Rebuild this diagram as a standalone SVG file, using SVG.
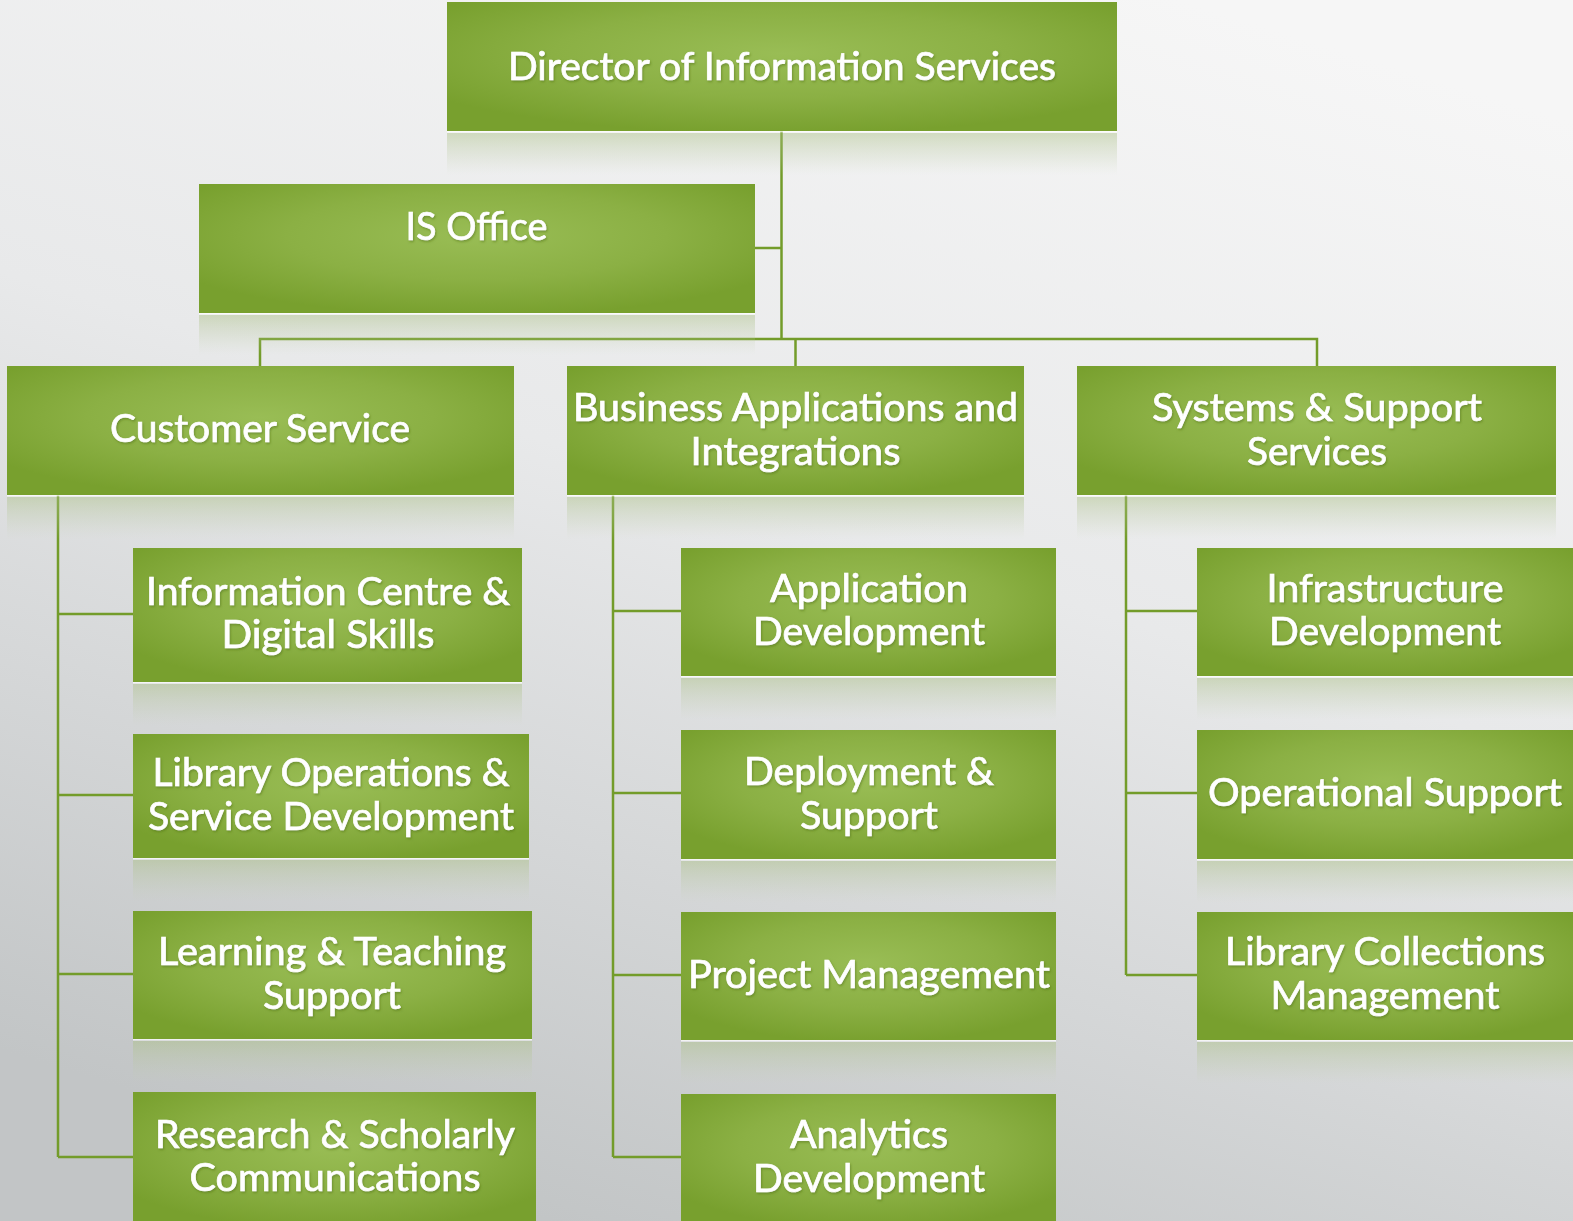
<svg xmlns="http://www.w3.org/2000/svg" width="1573" height="1221" viewBox="0 0 1573 1221">
<defs>
<linearGradient id="bg" x1="0.75" y1="0" x2="0.35" y2="1">
<stop offset="0" stop-color="#f6f6f6"/>
<stop offset="0.45" stop-color="#e8e9ea"/>
<stop offset="1" stop-color="#c2c5c6"/>
</linearGradient>
<radialGradient id="box" cx="0.5" cy="0.4" r="0.62">
<stop offset="0" stop-color="#99bd55"/>
<stop offset="0.55" stop-color="#8bb044"/>
<stop offset="1" stop-color="#78a02e"/>
</radialGradient>
<linearGradient id="refl" x1="0" y1="0" x2="0" y2="1">
<stop offset="0" stop-color="#a9bf82" stop-opacity="0.45"/>
<stop offset="0.6" stop-color="#b9c9a0" stop-opacity="0.2"/>
<stop offset="1" stop-color="#c8d4b4" stop-opacity="0"/>
</linearGradient>
<filter id="ts" x="-5%" y="-20%" width="110%" height="140%">
<feDropShadow dx="1" dy="1.5" stdDeviation="1.2" flood-color="#4a6a18" flood-opacity="0.5"/>
</filter>
</defs>
<style>
.b{fill:url(#box)}
.r{fill:url(#refl)}
.hl{fill:#ffffff;opacity:0.75}
.t{font-family:Lato,"Open Sans",sans-serif;font-size:38px;fill:#ffffff;stroke:#ffffff;stroke-width:0.7;text-anchor:middle;filter:url(#ts)}
.c{stroke:#739c2a;stroke-width:2.5;fill:none}
</style>
<rect width="1573" height="1221" fill="url(#bg)"/>

<g id="connectors">
<path class="c" d="M781.5 131V339M755 248H781.5M260 366V339H1317V366M795.5 339V366"/>
<path class="c" d="M58 495V1157M58 614H133M58 795H133M58 974H133M58 1157H133"/>
<path class="c" d="M613 495V1157M613 611H681M613 793H681M613 975H681M613 1157H681"/>
<path class="c" d="M1126 495V975M1126 611H1197M1126 793H1197M1126 975H1197"/>
</g>

<g id="director">
<rect class="b" x="447" y="2" width="670" height="129"/>
<rect class="hl" x="447" y="131" width="670" height="1.5"/>
<rect class="r" x="447" y="133" width="670" height="42"/>
<text class="t" x="782" y="79.5" textLength="548" lengthAdjust="spacingAndGlyphs">Director of Information Services</text>
</g>

<g id="is-office">
<rect class="b" x="199" y="184" width="556" height="129"/>
<rect class="hl" x="199" y="313" width="556" height="1.5"/>
<rect class="r" x="199" y="315" width="556" height="40"/>
<text class="t" x="476.5" y="240" textLength="142" lengthAdjust="spacingAndGlyphs">IS Office</text>
</g>

<g id="customer-service">
<rect class="b" x="7" y="366" width="507" height="129"/>
<rect class="hl" x="7" y="495" width="507" height="1.5"/>
<rect class="r" x="7" y="497" width="507" height="42"/>
<text class="t" x="260" y="442" textLength="300" lengthAdjust="spacingAndGlyphs">Customer Service</text>
</g>

<g id="business-applications">
<rect class="b" x="567" y="366" width="457" height="129"/>
<rect class="hl" x="567" y="495" width="457" height="1.5"/>
<rect class="r" x="567" y="497" width="457" height="42"/>
<text class="t" x="795.5" y="421" textLength="445" lengthAdjust="spacingAndGlyphs">Business Applications and</text>
<text class="t" x="795.5" y="465" textLength="210" lengthAdjust="spacingAndGlyphs">Integrations</text>
</g>

<g id="systems-support">
<rect class="b" x="1077" y="366" width="479" height="129"/>
<rect class="hl" x="1077" y="495" width="479" height="1.5"/>
<rect class="r" x="1077" y="497" width="479" height="42"/>
<text class="t" x="1317" y="421" textLength="330" lengthAdjust="spacingAndGlyphs">Systems &amp; Support</text>
<text class="t" x="1317" y="465" textLength="140" lengthAdjust="spacingAndGlyphs">Services</text>
</g>

<g id="information-centre">
<rect class="b" x="133" y="548" width="389" height="134"/>
<rect class="hl" x="133" y="682" width="389" height="1.5"/>
<rect class="r" x="133" y="684" width="389" height="42"/>
<text class="t" x="328" y="605" textLength="364" lengthAdjust="spacingAndGlyphs">Information Centre &amp;</text>
<text class="t" x="328" y="648" textLength="213" lengthAdjust="spacingAndGlyphs">Digital Skills</text>
</g>

<g id="library-operations">
<rect class="b" x="133" y="734" width="396" height="124"/>
<rect class="hl" x="133" y="858" width="396" height="1.5"/>
<rect class="r" x="133" y="860" width="396" height="42"/>
<text class="t" x="331" y="786" textLength="357" lengthAdjust="spacingAndGlyphs">Library Operations &amp;</text>
<text class="t" x="331" y="830" textLength="366" lengthAdjust="spacingAndGlyphs">Service Development</text>
</g>

<g id="learning-teaching">
<rect class="b" x="133" y="911" width="399" height="128"/>
<rect class="hl" x="133" y="1039" width="399" height="1.5"/>
<rect class="r" x="133" y="1041" width="399" height="42"/>
<text class="t" x="332" y="965" textLength="348" lengthAdjust="spacingAndGlyphs">Learning &amp; Teaching</text>
<text class="t" x="332" y="1009" textLength="138" lengthAdjust="spacingAndGlyphs">Support</text>
</g>

<g id="research-scholarly">
<rect class="b" x="133" y="1092" width="403" height="135"/>
<text class="t" x="335" y="1148" textLength="360" lengthAdjust="spacingAndGlyphs">Research &amp; Scholarly</text>
<text class="t" x="335" y="1191" textLength="291" lengthAdjust="spacingAndGlyphs">Communications</text>
</g>

<g id="application-development">
<rect class="b" x="681" y="548" width="375" height="128"/>
<rect class="hl" x="681" y="676" width="375" height="1.5"/>
<rect class="r" x="681" y="678" width="375" height="42"/>
<text class="t" x="869" y="602" textLength="198" lengthAdjust="spacingAndGlyphs">Application</text>
<text class="t" x="869" y="645" textLength="232" lengthAdjust="spacingAndGlyphs">Development</text>
</g>

<g id="deployment-support">
<rect class="b" x="681" y="730" width="375" height="129"/>
<rect class="hl" x="681" y="859" width="375" height="1.5"/>
<rect class="r" x="681" y="861" width="375" height="42"/>
<text class="t" x="869" y="785" textLength="250" lengthAdjust="spacingAndGlyphs">Deployment &amp;</text>
<text class="t" x="869" y="829" textLength="138" lengthAdjust="spacingAndGlyphs">Support</text>
</g>

<g id="project-management">
<rect class="b" x="681" y="912" width="375" height="128"/>
<rect class="hl" x="681" y="1040" width="375" height="1.5"/>
<rect class="r" x="681" y="1042" width="375" height="42"/>
<text class="t" x="869" y="988" textLength="362" lengthAdjust="spacingAndGlyphs">Project Management</text>
</g>

<g id="analytics-development">
<rect class="b" x="681" y="1094" width="375" height="133"/>
<text class="t" x="869" y="1148" textLength="158" lengthAdjust="spacingAndGlyphs">Analytics</text>
<text class="t" x="869" y="1192" textLength="232" lengthAdjust="spacingAndGlyphs">Development</text>
</g>

<g id="infrastructure-development">
<rect class="b" x="1197" y="548" width="380" height="128"/>
<rect class="hl" x="1197" y="676" width="380" height="1.5"/>
<rect class="r" x="1197" y="678" width="380" height="42"/>
<text class="t" x="1385" y="602" textLength="237" lengthAdjust="spacingAndGlyphs">Infrastructure</text>
<text class="t" x="1385" y="645" textLength="232" lengthAdjust="spacingAndGlyphs">Development</text>
</g>

<g id="operational-support">
<rect class="b" x="1197" y="730" width="380" height="129"/>
<rect class="hl" x="1197" y="859" width="380" height="1.5"/>
<rect class="r" x="1197" y="861" width="380" height="42"/>
<text class="t" x="1385" y="806" textLength="354" lengthAdjust="spacingAndGlyphs">Operational Support</text>
</g>

<g id="library-collections">
<rect class="b" x="1197" y="912" width="380" height="128"/>
<rect class="hl" x="1197" y="1040" width="380" height="1.5"/>
<rect class="r" x="1197" y="1042" width="380" height="42"/>
<text class="t" x="1385" y="965" textLength="320" lengthAdjust="spacingAndGlyphs">Library Collections</text>
<text class="t" x="1385" y="1009" textLength="229" lengthAdjust="spacingAndGlyphs">Management</text>
</g>
</svg>
